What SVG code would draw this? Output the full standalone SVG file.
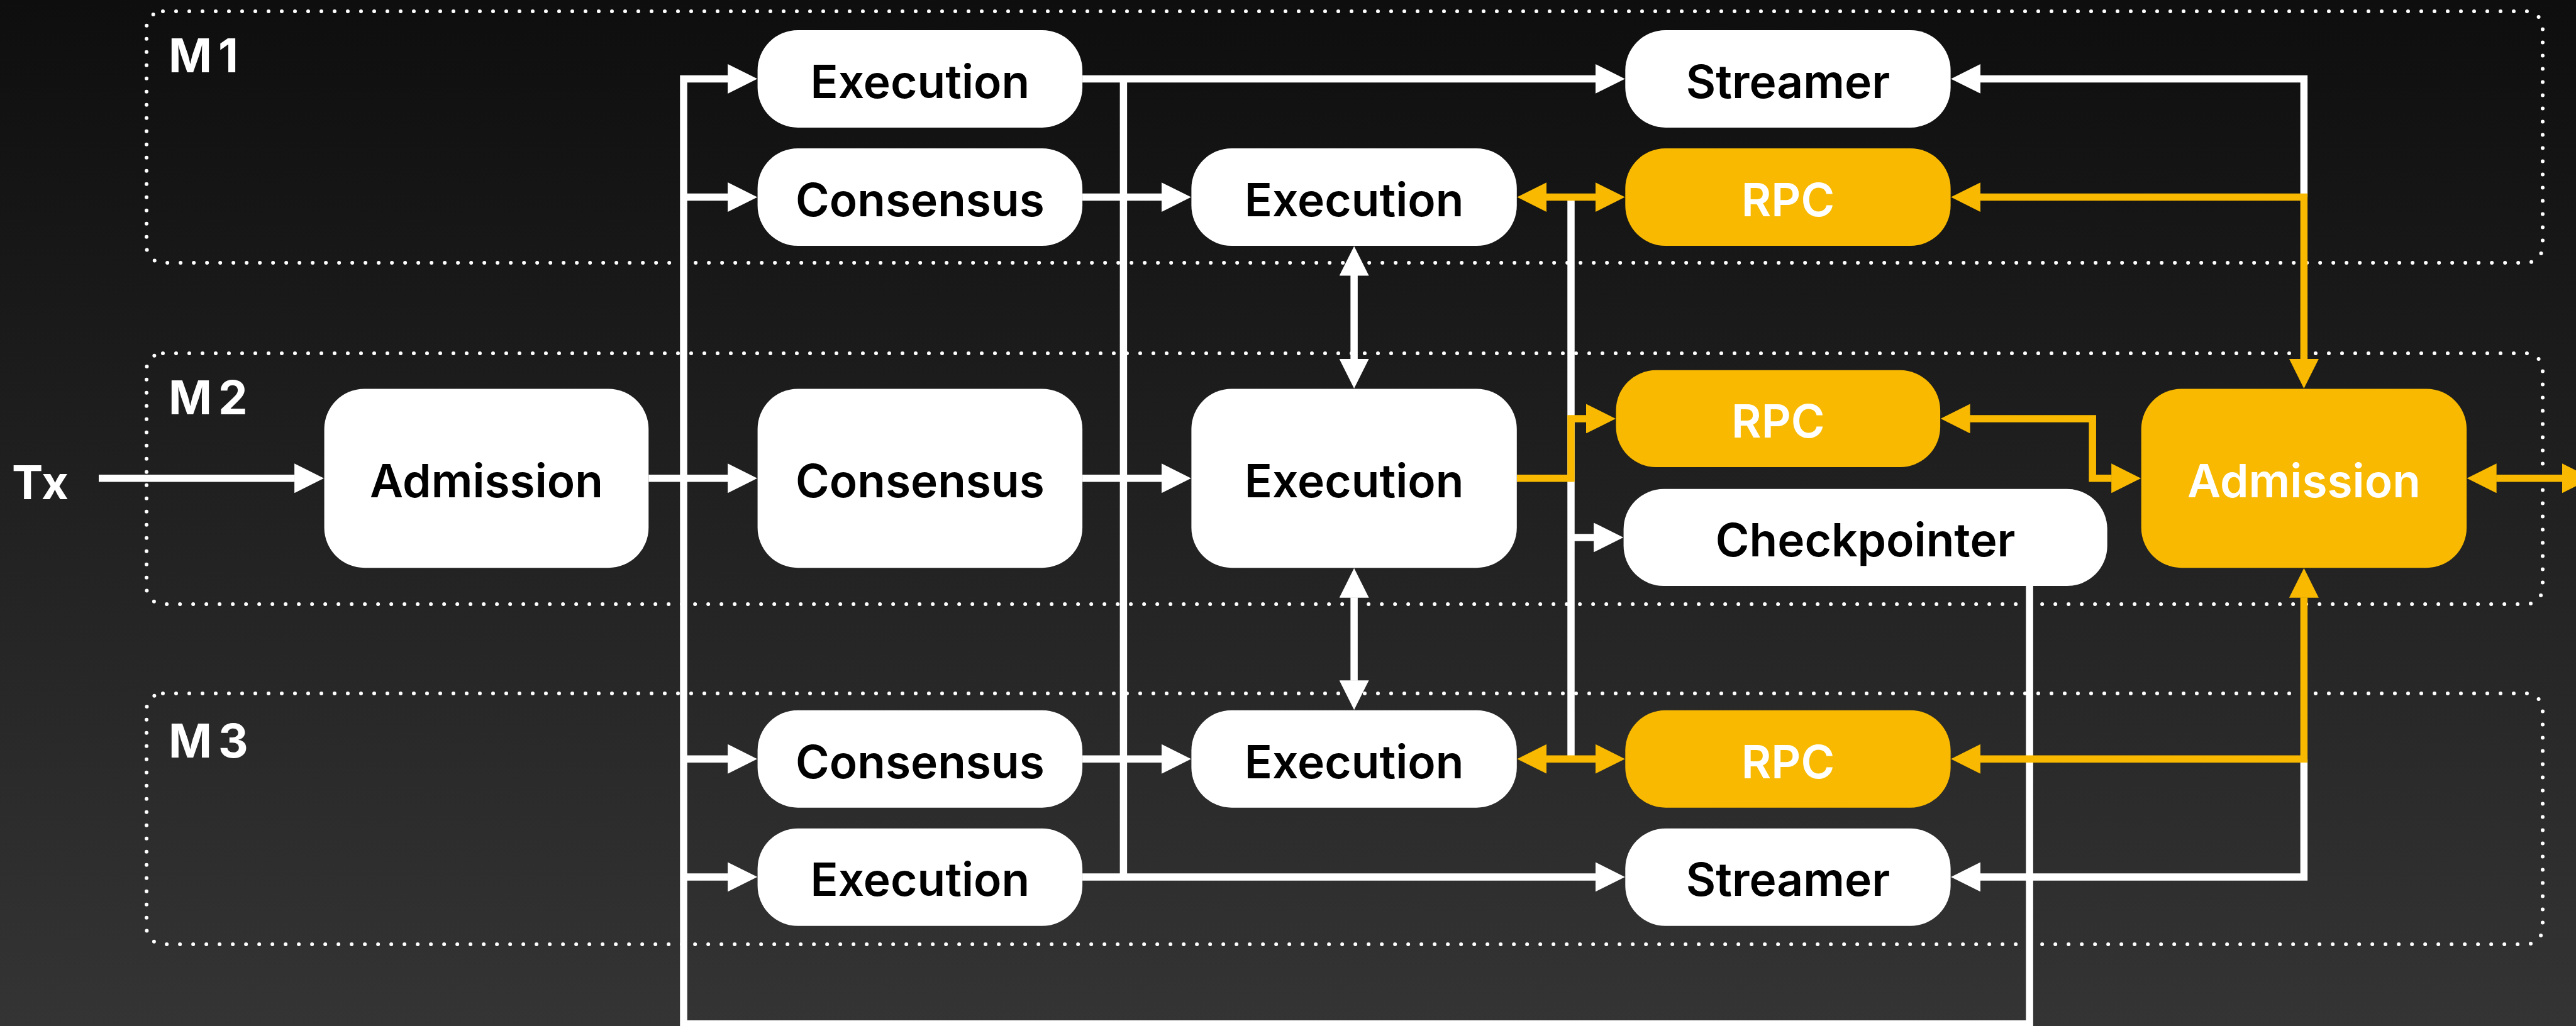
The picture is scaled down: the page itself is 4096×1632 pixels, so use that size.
<svg xmlns="http://www.w3.org/2000/svg" width="4096" height="1632" viewBox="0 0 4096 1632">
  <defs>
    <linearGradient id="bg" x1="0" y1="0" x2="0" y2="1">
      <stop offset="0" stop-color="#0e0e0e"/>
      <stop offset="1" stop-color="#343434"/>
    </linearGradient>
    <marker id="ah-w" viewBox="0 -23.5 47 47" refX="0.5" refY="0" markerWidth="47" markerHeight="47" markerUnits="userSpaceOnUse" orient="auto-start-reverse">
      <path d="M0,-23.5 L47,0 L0,23.5 z" fill="#ffffff"/>
    </marker>
    <marker id="ah-o" viewBox="0 -23.5 47 47" refX="0.5" refY="0" markerWidth="47" markerHeight="47" markerUnits="userSpaceOnUse" orient="auto-start-reverse">
      <path d="M0,-23.5 L47,0 L0,23.5 z" fill="#f8b900"/>
    </marker>
  </defs>
  <style>
    .grp { fill: none; stroke: #ffffff; stroke-width: 6; stroke-dasharray: 0 21; stroke-linecap: round; }
    .grp-label { fill: #ffffff; font-family: Inter, "Liberation Sans", sans-serif; font-weight: 700; font-size: 74px; letter-spacing: 10px; }
    .tx { fill: #ffffff; font-family: Inter, "Liberation Sans", sans-serif; font-weight: 700; font-size: 74px; }
    .box { fill: #ffffff; }
    .box.hot { fill: #f8b900; }
    .lbl { fill: #000000; font-family: Inter, "Liberation Sans", sans-serif; font-weight: 600; font-size: 73px; text-anchor: middle; }
    .hot-lbl { fill: #ffffff; }
    .w { fill: none; stroke: #ffffff; stroke-width: 11.5; }
    .o { fill: none; stroke: #f8b900; stroke-width: 11.5; }
    .w.end { marker-end: url(#ah-w); }
    .w.both { marker-start: url(#ah-w); marker-end: url(#ah-w); }
    .o.end { marker-end: url(#ah-o); }
    .o.both { marker-start: url(#ah-o); marker-end: url(#ah-o); }
  </style>

  <rect x="0" y="0" width="4096" height="1632" fill="url(#bg)"/>

  <!-- machine groups -->
  <g id="machines">
    <g id="m1">
      <rect class="grp" x="233" y="18" width="3810" height="400" rx="26"/>
      <text class="grp-label" x="268" y="115">M1</text>
    </g>
    <g id="m2">
      <rect class="grp" x="233" y="562" width="3810" height="399" rx="26"/>
      <text class="grp-label" x="268" y="659">M2</text>
    </g>
    <g id="m3">
      <rect class="grp" x="233" y="1103" width="3810" height="399" rx="26"/>
      <text class="grp-label" x="268" y="1205">M3</text>
    </g>
  </g>

  <text id="tx" class="tx" x="19" y="794">Tx</text>

  <!-- connectors -->
  <g id="connectors">
    <!-- inbound -->
    <path class="w end" d="M157,760.8 H468.6"/>
    <path class="w end" d="M1031.3,760.8 H1157.6"/>
    <!-- checkpoint feedback bus -->
    <path class="w end" d="M3227.1,932 V1628.8 H1087 V125.4 H1157.6"/>
    <path class="w end" d="M1087,313.6 H1157.6"/>
    <path class="w end" d="M1087,1207.2 H1157.6"/>
    <path class="w end" d="M1087,1394.9 H1157.6"/>
    <!-- execution to streamers -->
    <path class="w end" d="M1721.1,125.4 H2537.3"/>
    <path class="w end" d="M1721.1,1394.9 H2537.3"/>
    <path class="w" d="M1786.4,125.4 V1394.9"/>
    <!-- consensus to execution -->
    <path class="w end" d="M1721.1,313.6 H1847.4"/>
    <path class="w end" d="M1721.1,760.8 H1847.4"/>
    <path class="w end" d="M1721.1,1207.2 H1847.4"/>
    <!-- execution to execution -->
    <path class="w both" d="M2153.1,438 V571.4"/>
    <path class="w both" d="M2153.1,950.2 V1082.7"/>
    <!-- execution to checkpointer -->
    <path class="w" d="M2498,313.6 V1207.2"/>
    <path class="w end" d="M2498,854.9 H2534.6"/>
    <!-- admission to streamers -->
    <path class="w end" d="M3663.4,313.6 V125.4 H3148.6"/>
    <path class="w end" d="M3663.4,1207.2 V1394.9 H3148.6"/>
    <!-- RPC links -->
    <path class="o both" d="M2458.8,313.6 H2537.3"/>
    <path class="o both" d="M2458.8,1207.2 H2537.3"/>
    <path class="o end" d="M2411.8,760.8 H2498 V665.9 H2522.5"/>
    <path class="o both" d="M3148.6,313.6 H3663.4 V571.4"/>
    <path class="o both" d="M3148.6,1207.2 H3663.4 V950.2"/>
    <path class="o both" d="M3132.1,665.9 H3327.2 V760.8 H3357.7"/>
    <path class="o both" d="M3969.1,760.8 H4074.5"/>
  </g>

  <!-- nodes -->
  <g id="m1-execution-a">
    <rect class="box" x="1204.6" y="47.9" width="516.5" height="155" rx="64"/>
    <text class="lbl" x="1462.9" y="156">Execution</text>
  </g>
  <g id="m1-consensus">
    <rect class="box" x="1204.6" y="236" width="516.5" height="155" rx="64"/>
    <text class="lbl" x="1462.9" y="344">Consensus</text>
  </g>
  <g id="m1-execution-b">
    <rect class="box" x="1894.4" y="236" width="517.4" height="155" rx="64"/>
    <text class="lbl" x="2153.1" y="344">Execution</text>
  </g>
  <g id="m1-streamer">
    <rect class="box" x="2584.3" y="47.9" width="517.3" height="155" rx="64"/>
    <text class="lbl" x="2843" y="156">Streamer</text>
  </g>
  <g id="m1-rpc">
    <rect class="box hot" x="2584.3" y="236" width="517.3" height="155" rx="64"/>
    <text class="lbl hot-lbl" x="2843" y="344">RPC</text>
  </g>

  <g id="m2-admission">
    <rect class="box" x="515.6" y="618.4" width="515.7" height="284.8" rx="64"/>
    <text class="lbl" x="773.5" y="791">Admission</text>
  </g>
  <g id="m2-consensus">
    <rect class="box" x="1204.6" y="618.4" width="516.5" height="284.8" rx="64"/>
    <text class="lbl" x="1462.9" y="791">Consensus</text>
  </g>
  <g id="m2-execution">
    <rect class="box" x="1894.4" y="618.4" width="517.4" height="284.8" rx="64"/>
    <text class="lbl" x="2153.1" y="791">Execution</text>
  </g>
  <g id="m2-rpc">
    <rect class="box hot" x="2569.5" y="588.8" width="515.6" height="154.2" rx="64"/>
    <text class="lbl hot-lbl" x="2827.3" y="696">RPC</text>
  </g>
  <g id="m2-checkpointer">
    <rect class="box" x="2581.6" y="777.8" width="769.1" height="154.2" rx="64"/>
    <text class="lbl" x="2966.2" y="885">Checkpointer</text>
  </g>
  <g id="m2-admission-rpc">
    <rect class="box hot" x="3404.7" y="618.4" width="517.4" height="284.8" rx="64"/>
    <text class="lbl hot-lbl" x="3663.4" y="791">Admission</text>
  </g>

  <g id="m3-consensus">
    <rect class="box" x="1204.6" y="1129.7" width="516.5" height="155" rx="64"/>
    <text class="lbl" x="1462.9" y="1238">Consensus</text>
  </g>
  <g id="m3-execution-a">
    <rect class="box" x="1204.6" y="1317.8" width="516.5" height="155" rx="64"/>
    <text class="lbl" x="1462.9" y="1425">Execution</text>
  </g>
  <g id="m3-execution-b">
    <rect class="box" x="1894.4" y="1129.7" width="517.4" height="155" rx="64"/>
    <text class="lbl" x="2153.1" y="1238">Execution</text>
  </g>
  <g id="m3-rpc">
    <rect class="box hot" x="2584.3" y="1129.7" width="517.3" height="155" rx="64"/>
    <text class="lbl hot-lbl" x="2843" y="1238">RPC</text>
  </g>
  <g id="m3-streamer">
    <rect class="box" x="2584.3" y="1317.8" width="517.3" height="155" rx="64"/>
    <text class="lbl" x="2843" y="1425">Streamer</text>
  </g>
</svg>
